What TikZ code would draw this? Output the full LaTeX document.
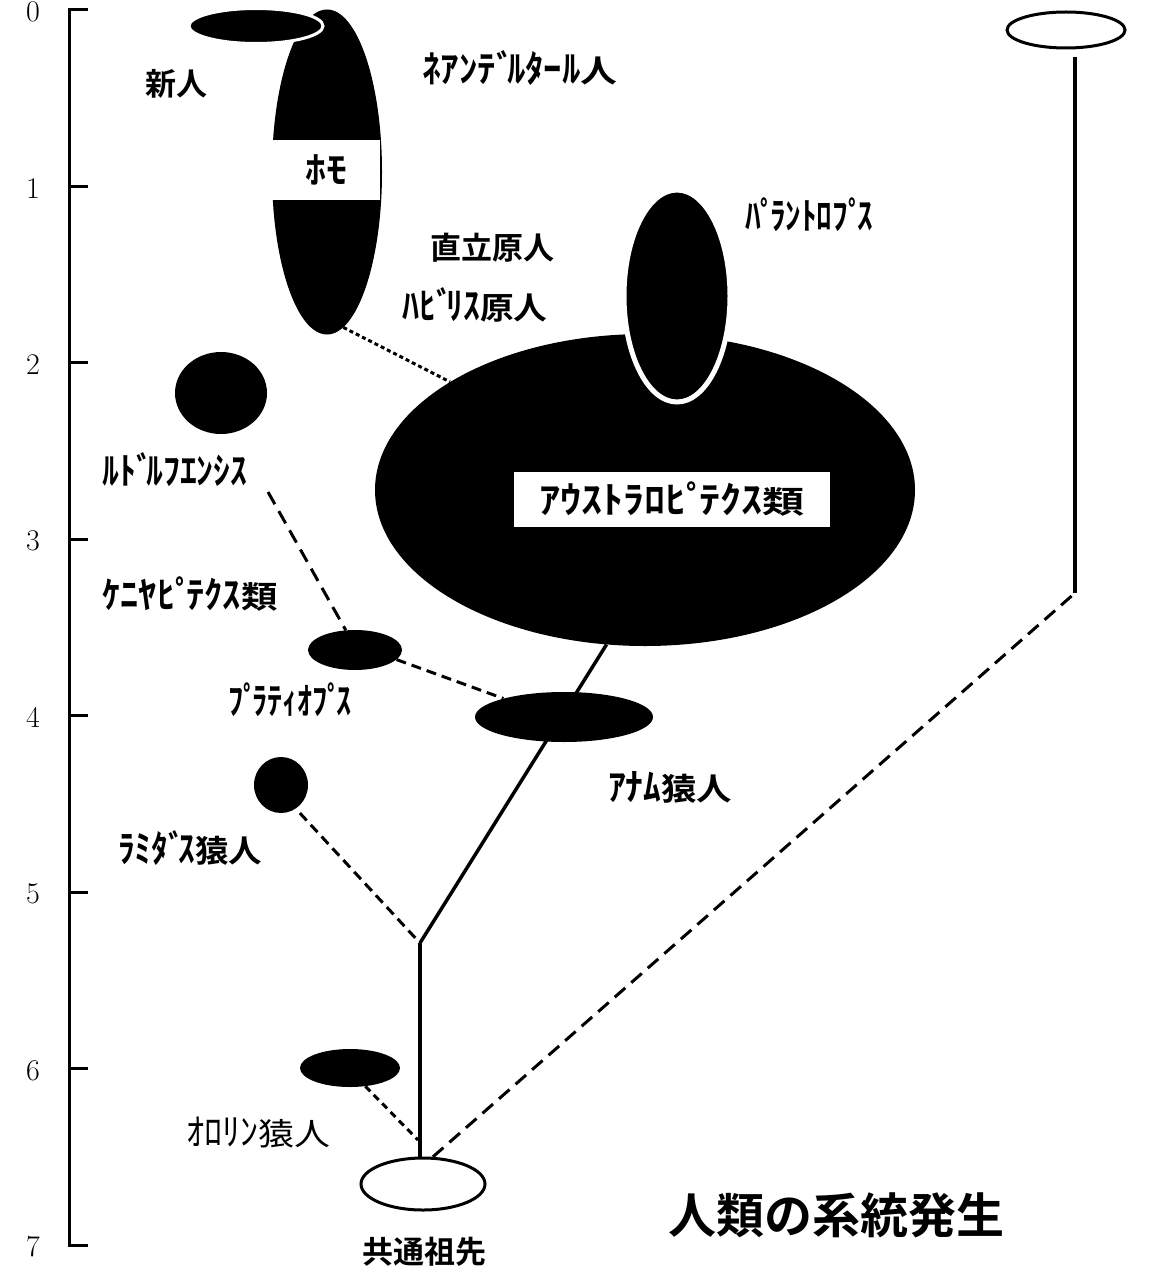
\documentclass[tikz,border=0pt]{standalone}
\usepackage{graphicx}
\usepackage{fontspec}
\newfontfamily\jp{Noto Sans CJK JP}[BoldFont={Noto Sans CJK JP Bold}]
\usetikzlibrary{shapes.geometric}
\newcommand{\fitw}[2]{\resizebox{#1}{\height}{#2}}
\newcommand{\kn}[1]{\scalebox{1}[1.2]{#1}}
\newcommand{\dk}{ﾞ\kern-.2em\relax}
\newcommand{\hk}{ﾟ\kern-.2em\relax}
\begin{document}
\begin{tikzpicture}[x=1pt,y=-1pt,
  blob/.style={ellipse,fill=black,inner sep=0pt},
  hollow/.style={ellipse,fill=white,draw=black,line width=3pt,inner sep=0pt},
  lbl/.style={font=\jp\bfseries\fontsize{31}{31}\selectfont,inner sep=0pt},
  lblbox/.style={lbl,fill=white,inner sep=0pt},
  axnum/.style={font=\fontsize{30}{30}\selectfont,inner sep=0pt},
  solidline/.style={line width=3.5pt},
  dotline/.style={line width=3pt,dash pattern=on 4pt off 3pt},
  dashline/.style={line width=3pt,dash pattern=on 14pt off 8pt},
  shortdash/.style={line width=3pt,dash pattern=on 10pt off 6pt},
  finedash/.style={line width=3pt,dash pattern=on 7pt off 5pt}]
\useasboundingbox (0,0) rectangle (1153,1268);
\fill[white] (0,0) rectangle (1153,1268);

% axis
\draw[line width=3pt] (88,10) -- (69,10) -- (69,1245) -- (88,1245);
\foreach \k in {1,...,6} {\draw[line width=3pt] (69,10+\k*176.43) -- (88,10+\k*176.43);}
\foreach \k in {0,...,7} {\node[axnum] (ax\k) at (33,12+\k*176.43) {\k};}

% nodes (shapes)
\node[blob,minimum width=540pt,minimum height=312pt] (austral) at (645,490) {};
\node[blob,minimum width=106pt,minimum height=212pt,draw=white,line width=5pt] (para) at (677,296) {};
\node[blob,minimum width=110pt,minimum height=325pt] (homo) at (327,172) {};
\node[blob,minimum width=134pt,minimum height=35pt,draw=white,line width=3pt] (shinjin) at (256,26) {};
\node[blob,minimum width=92pt,minimum height=82pt] (rudolf) at (221,393) {};
\node[blob,minimum width=94pt,minimum height=40pt] (platy) at (355,650) {};
\node[blob,minimum width=54pt,minimum height=56pt] (ramidus) at (281,785) {};
\node[blob,minimum width=100pt,minimum height=38pt] (orrorin) at (350,1068) {};
\node[hollow,minimum width=124pt,minimum height=52pt] (ancestor) at (423,1184) {};
\node[hollow,minimum width=118pt,minimum height=36pt] (top) at (1066,30) {};

\coordinate (junction) at (420,943);
\coordinate (rdtop) at (268,492);
\coordinate (ojoin) at (418,1140);
\coordinate (bend) at (1075,593);
\coordinate (topend) at (1075,57);

% connectors
\draw[dotline] (homo.-84) -- (austral.151);
\draw[solidline] (austral.-104) -- (junction);
\node[blob,minimum width=178pt,minimum height=50pt] (anam) at (564,717) {};
\draw[dashline] (rdtop) -- (platy.115);
\draw[shortdash] (platy.-13) -- (anam.163);
\draw[shortdash,shorten <=6pt] (ramidus.-58) -- (junction);
\draw[solidline] (junction) -- (junction |- ancestor.north);
\draw[finedash] (orrorin.-50) -- (ojoin);
\draw[dashline] (ancestor.70) -- (bend);
\draw[solidline] (bend) -- (topend);

% label boxes
\node[lblbox,minimum width=108pt,minimum height=60pt] (homolbl) at (326,170) {\fitw{42pt}{\kn{ﾎﾓ}}};
\node[lblbox,minimum width=316pt,minimum height=55pt] (australlbl) at (672,499) {\fitw{265pt}{\kn{ｱｳｽﾄﾗﾛﾋ\hk ﾃｸｽ}類}};

% labels
\node[lbl] (t1) at (176,84) {新人};
\node[lbl] (t2) at (520,68) {\fitw{195pt}{\kn{ﾈｱﾝﾃ\dk ﾙﾀｰﾙ}人}};
\node[lbl] (t3) at (492,248) {直立原人};
\node[lbl] (t4) at (475,305) {\fitw{145pt}{\kn{ﾊﾋ\dk ﾘｽ}原人}};
\node[lbl] (t5) at (809,215) {\fitw{128pt}{\kn{ﾊ\hk ﾗﾝﾄﾛﾌ\hk ｽ}}};
\node[lbl] (t6) at (175,470) {\fitw{145pt}{\kn{ﾙﾄ\dk ﾙﾌｴﾝｼｽ}}};
\node[lbl] (t7) at (190,594) {\fitw{175pt}{\kn{ｹﾆﾔﾋ\hk ﾃｸｽ}類}};
\node[lbl] (t8) at (290,700) {\fitw{124pt}{\kn{ﾌ\hk ﾗﾃｨｵﾌ\hk ｽ}}};
\node[lbl] (t9) at (670,787) {\fitw{124pt}{\kn{ｱﾅﾑ}猿人}};
\node[lbl] (t10) at (190,848) {\fitw{144pt}{\kn{ﾗﾐﾀ\dk ｽ}猿人}};
\node[lbl,font=\jp\fontsize{31}{31}\selectfont] (t11) at (258,1133) {\fitw{144pt}{\kn{ｵﾛﾘﾝ}猿人}};
\node[lbl] (t12) at (424,1252) {共通祖先};
\node[lbl,font=\jp\bfseries\fontsize{48}{48}\selectfont] (title) at (836,1215) {人類の系統発生};
\end{tikzpicture}
\end{document}
